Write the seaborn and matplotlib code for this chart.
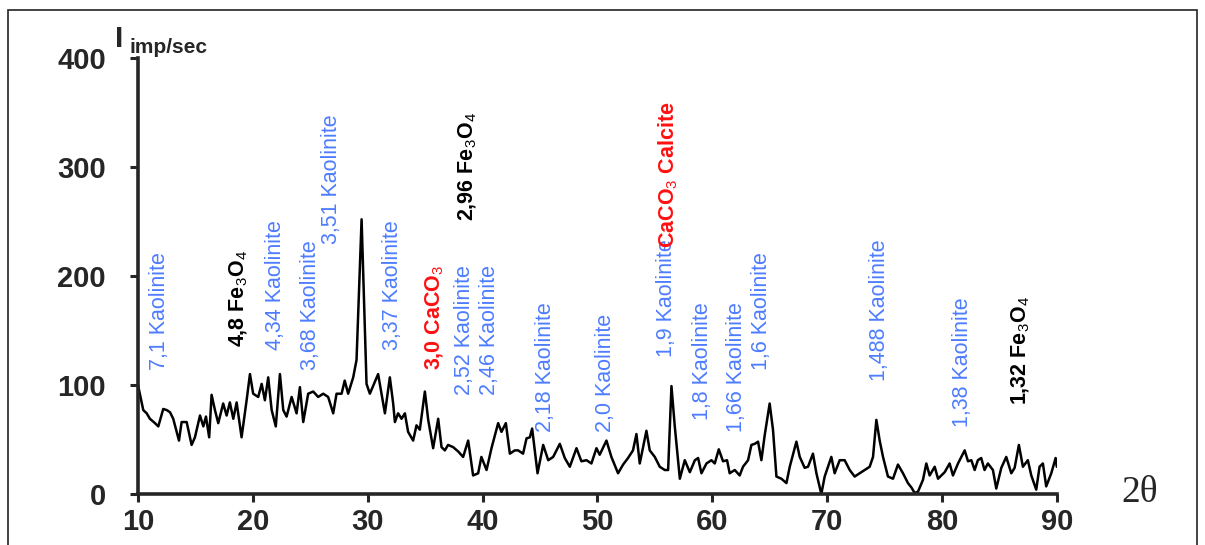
import matplotlib
matplotlib.use("Agg")
import matplotlib.pyplot as plt
from matplotlib.patches import Rectangle
import pandas as pd
import seaborn as sns

# Diffraction pattern: 2-theta (degrees) and intensity (imp/sec)
two_theta = [
    10.0, 10.46, 10.76, 11.04, 11.48, 11.77, 12.2, 12.5, 12.79, 13.07, 13.57, 13.8,
    14.24, 14.67, 14.96, 15.4, 15.69, 15.92, 16.2, 16.41, 16.7, 16.99, 17.42, 17.72,
    18.0, 18.3, 18.59, 19.02, 19.46, 19.75, 20.03, 20.47, 20.77, 21.05, 21.34, 21.64,
    22.0, 22.36, 22.65, 22.94, 23.38, 23.81, 24.1, 24.39, 24.82, 25.26, 25.69, 26.13,
    26.56, 27.0, 27.29, 27.73, 28.0, 28.3, 28.74, 29.03, 29.47, 29.9, 30.19, 30.91,
    31.5, 31.93, 32.22, 32.37, 32.65, 32.95, 33.24, 33.52, 33.96, 34.25, 34.54, 34.98,
    35.27, 35.7, 36.14, 36.43, 36.72, 37.0, 37.44, 37.88, 38.31, 38.75, 39.18, 39.62,
    39.9, 40.35, 40.78, 41.36, 41.65, 42.03, 42.38, 42.81, 43.1, 43.53, 43.83, 44.12,
    44.32, 44.79, 45.28, 45.72, 46.15, 46.73, 47.16, 47.6, 48.18, 48.61, 49.05, 49.48,
    49.92, 50.2, 50.79, 51.22, 51.8, 52.24, 52.67, 53.1, 53.4, 53.69, 54.27, 54.56,
    55.0, 55.43, 55.87, 56.16, 56.45, 56.74, 57.18, 57.61, 58.05, 58.49, 58.77, 59.06,
    59.5, 59.93, 60.22, 60.57, 60.94, 61.29, 61.52, 61.96, 62.39, 62.68, 63.12, 63.41,
    63.7, 63.99, 64.28, 64.57, 65.0, 65.29, 65.59, 66.02, 66.46, 66.75, 67.33, 67.62,
    68.05, 68.34, 68.77, 69.07, 69.5, 69.79, 70.37, 70.66, 71.1, 71.53, 71.97, 72.4,
    72.84, 73.27, 73.71, 74.0, 74.29, 74.58, 74.87, 75.3, 75.74, 76.17, 76.61, 77.04,
    77.34, 77.62, 77.91, 78.35, 78.64, 78.93, 79.37, 79.66, 80.24, 80.67, 80.96, 81.4,
    81.98, 82.27, 82.56, 82.85, 83.13, 83.42, 83.71, 84.0, 84.44, 84.73, 85.17, 85.6,
    86.04, 86.33, 86.7, 87.05, 87.48, 87.78, 88.21, 88.5, 88.79, 89.08, 89.52, 89.9,
    90.0,
]
intensity = [
    100, 77, 74, 69, 65, 62, 78, 77, 75, 69, 49, 66,
    66, 45, 52, 72, 62, 71, 52, 91, 77, 65, 83, 72,
    84, 69, 84, 52, 86, 110, 92, 89, 101, 86, 107, 77,
    62, 110, 77, 71, 89, 74, 98, 66, 92, 94, 89, 92,
    89, 74, 92, 92, 104, 92, 107, 123, 252, 101, 92, 110,
    74, 107, 83, 66, 74, 69, 74, 57, 49, 63, 59, 94,
    68, 42, 69, 43, 40, 45, 43, 39, 34, 49, 17, 19,
    34, 22, 42, 65, 57, 65, 37, 40, 40, 37, 51, 52,
    60, 19, 45, 31, 34, 46, 33, 25, 42, 30, 31, 28,
    42, 36, 49, 34, 19, 27, 33, 40, 55, 28, 58, 40,
    34, 25, 22, 22, 99, 62, 14, 31, 20, 31, 33, 19,
    28, 31, 28, 41, 30, 31, 19, 22, 17, 25, 31, 45,
    46, 48, 31, 54, 83, 59, 16, 14, 10, 25, 48, 34,
    24, 25, 37, 19, 0, 16, 34, 19, 31, 31, 22, 16,
    19, 22, 25, 34, 68, 49, 34, 16, 14, 27, 19, 10,
    6, 1, 2, 13, 28, 17, 25, 14, 20, 28, 17, 28,
    40, 30, 31, 22, 31, 33, 22, 28, 22, 5, 24, 34,
    19, 24, 45, 25, 31, 17, 4, 25, 28, 7, 19, 33,
    25,
]

# Peak annotations: text, 2-theta anchor, intensity anchor (bottom of text), phase
peak_labels = [
    "7,1 Kaolinite", r"4,8 Fe$_\mathrm{3}$O$_\mathrm{4}$", "4,34 Kaolinite", "3,68 Kaolinite",
    "3,51 Kaolinite", "3,37 Kaolinite", r"3,0 CaCO$_\mathrm{3}$", r"2,96 Fe$_\mathrm{3}$O$_\mathrm{4}$",
    "2,52 Kaolinite", "2,46 Kaolinite", "2,18 Kaolinite", "2,0 Kaolinite",
    "1,9 Kaolinite", r"CaCO$_\mathrm{3}$ Calcite", "1,8 Kaolinite", "1,66 Kaolinite",
    "1,6 Kaolinite", "1,488 Kaolinite", "1,38 Kaolinite", r"1,32 Fe$_\mathrm{3}$O$_\mathrm{4}$",
]
label_theta = [
    11.91, 18.79, 22.01, 25.06, 26.88, 32.19, 35.85, 38.72, 38.46, 40.64,
    45.51, 50.73, 56.04, 56.13, 59.17, 62.13, 64.31, 74.58, 81.8, 86.85,
]
label_level = [
    113.5, 134.6, 131.8, 113.5, 229.7, 131.8, 113.5, 250.8, 90.6, 90.6,
    56.8, 56.8, 125.4, 226.1, 67.7, 56.8, 113.5, 103.4, 61.3, 81.5,
]
label_phase = [
    "K", "M", "K", "K", "K", "K", "C", "M", "K", "K",
    "K", "K", "K", "C", "K", "K", "K", "K", "K", "M",
]

x_ticks = [10, 20, 30, 40, 50, 60, 70, 80, 90]
y_ticks = [0, 100, 200, 300, 400]

phase_style = {
    "K": dict(color="#4d7cff", fontweight="normal"),
    "M": dict(color="black", fontweight="bold"),
    "C": dict(color="#ff1010", fontweight="bold"),
}

sns.set_style("ticks")
plt.rcParams["font.family"] = ["Liberation Sans", "DejaVu Sans"]
plt.rcParams["mathtext.fontset"] = "custom"
plt.rcParams["mathtext.rm"] = "Liberation Sans"

fig = plt.figure(figsize=(12.05, 5.45), dpi=100)
ax = fig.add_axes([0.1145, 0.0936, 0.877 - 0.1145, 0.8936 - 0.0936])

df = pd.DataFrame({"two_theta": two_theta, "intensity": intensity})
sns.lineplot(data=df, x="two_theta", y="intensity", ax=ax, color="black",
             linewidth=1.8, estimator=None, sort=False)

ax.set_xlim(10, 90)
ax.set_ylim(0, 400)
ax.set_xticks(x_ticks)
ax.set_yticks(y_ticks)
ax.set_xlabel("")
ax.set_ylabel("")
sns.despine(ax=ax)
for side in ("left", "bottom"):
    ax.spines[side].set_linewidth(2.6)
ax.tick_params(axis="both", direction="out", length=6, width=2.2, labelsize=21)
ax.tick_params(axis="y", pad=17)
ax.tick_params(axis="x", pad=4)
for lab in ax.get_xticklabels() + ax.get_yticklabels():
    lab.set_fontweight("bold")

for text, xt, yt, ph in zip(peak_labels, label_theta, label_level, label_phase):
    ax.text(xt, yt, text, rotation=90, ha="center", va="bottom",
            fontsize=15.5, **phase_style[ph])

# Axis captions
fig.text(0.0954, 0.9138, "I", fontsize=21.5, fontweight="bold", ha="left", va="baseline")
fig.text(0.1075, 0.9030, "imp/sec", fontsize=15, fontweight="bold", ha="left", va="baseline")
fig.text(0.931, 0.079, "2θ", fontsize=27, family=["Liberation Serif", "DejaVu Serif"],
         ha="left", va="baseline")

# Thin frame around the figure
fig.add_artist(Rectangle((0.0066, -0.05), 0.9868, 0.9817 + 0.05, fill=False,
                         linewidth=1.2, edgecolor="#222222", transform=fig.transFigure))

fig.savefig("out.png", dpi=100)
